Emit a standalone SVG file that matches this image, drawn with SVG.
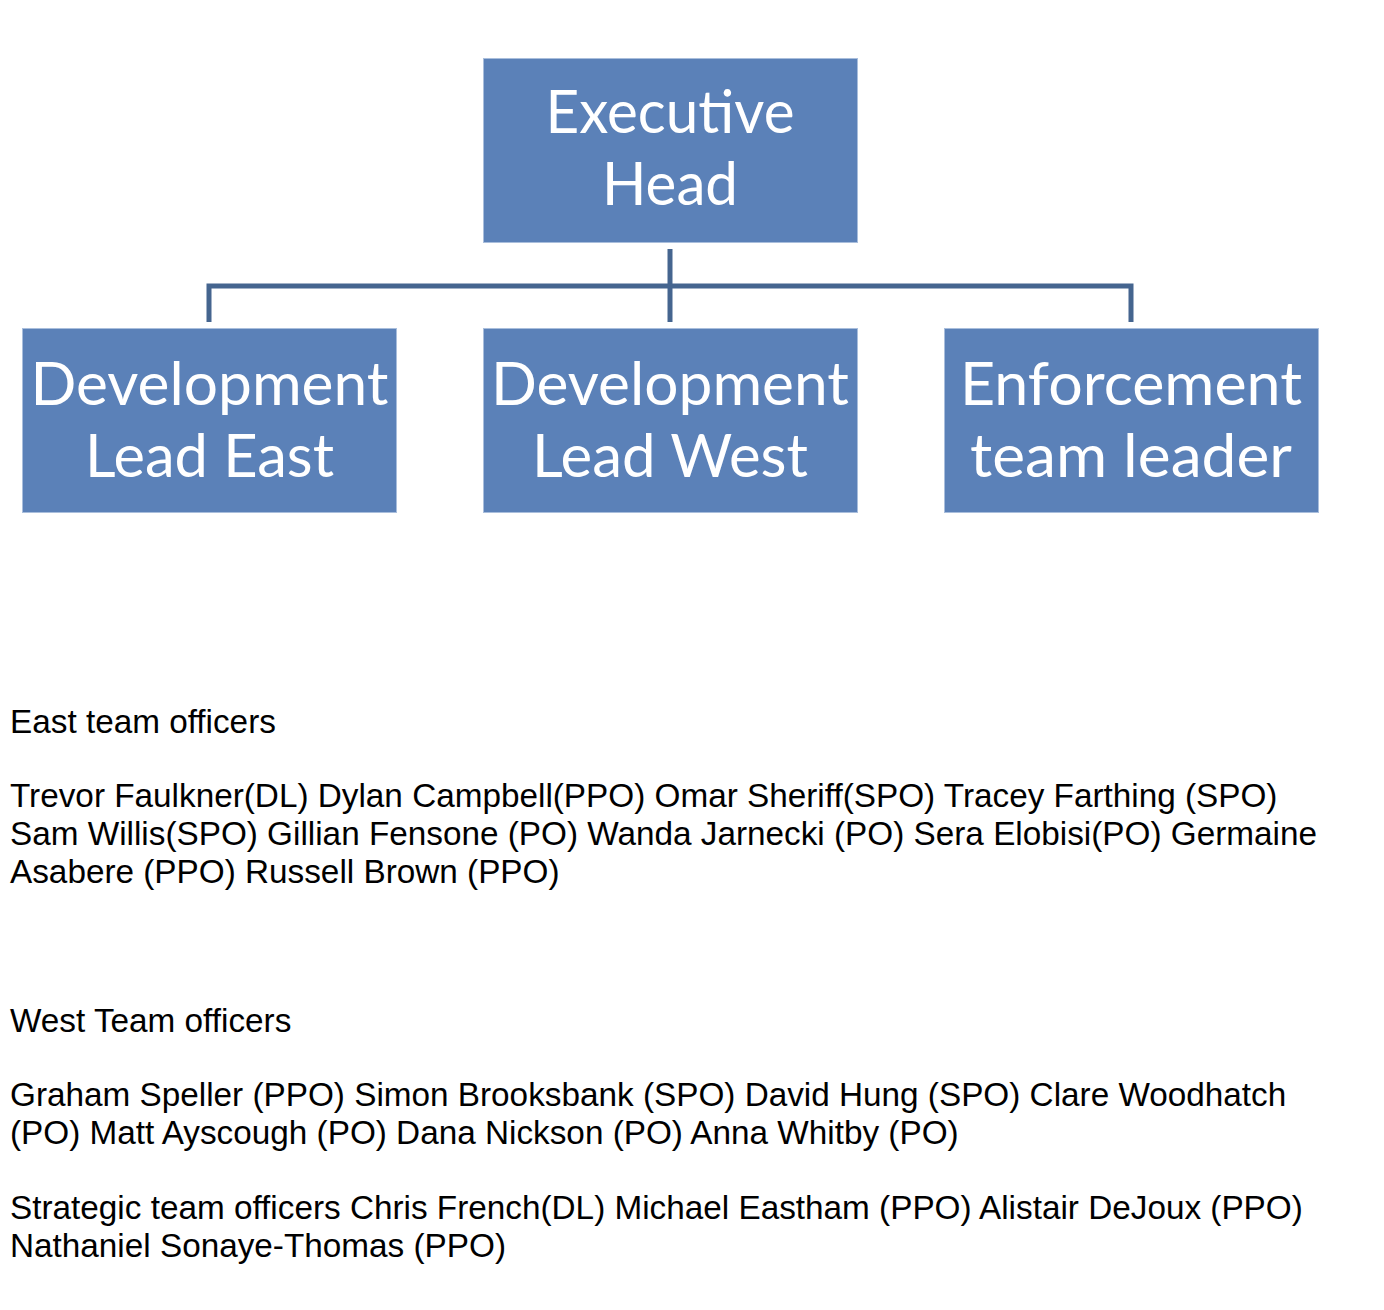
<svg xmlns="http://www.w3.org/2000/svg" width="1384" height="1310" viewBox="0 0 1384 1310">
<style>
.box{fill:#5b81b8;stroke:#a9bedc;stroke-width:1}
.bt{font-family:Lato,"Open Sans","Liberation Sans",sans-serif;font-size:60px;fill:#ffffff;text-anchor:middle}
.conn{fill:none;stroke:#45658f;stroke-width:5}
.body{font-family:"Liberation Sans",Arial,sans-serif;font-size:33.3px;fill:#000000}
</style>
<rect width="1384" height="1310" fill="#ffffff"/>
<g id="connectors">
<path class="conn" d="M670 249 V322"/>
<path class="conn" d="M209 322 V286 H1131 V322"/>
</g>
<g id="node-executive-head">
<rect class="box" x="483.5" y="58.5" width="374" height="184"/>
<text class="bt" x="670" y="133" textLength="249" lengthAdjust="spacingAndGlyphs">Executive</text>
<text class="bt" x="670" y="205" textLength="136" lengthAdjust="spacingAndGlyphs">Head</text>
</g>
<g id="node-dev-lead-east">
<rect class="box" x="22.5" y="328.5" width="374" height="184"/>
<text class="bt" x="209.5" y="405" textLength="358" lengthAdjust="spacingAndGlyphs">Development</text>
<text class="bt" x="209.5" y="477" textLength="249" lengthAdjust="spacingAndGlyphs">Lead East</text>
</g>
<g id="node-dev-lead-west">
<rect class="box" x="483.5" y="328.5" width="374" height="184"/>
<text class="bt" x="670" y="405" textLength="358" lengthAdjust="spacingAndGlyphs">Development</text>
<text class="bt" x="670" y="477" textLength="276" lengthAdjust="spacingAndGlyphs">Lead West</text>
</g>
<g id="node-enforcement">
<rect class="box" x="944.5" y="328.5" width="374" height="184"/>
<text class="bt" x="1131" y="405" textLength="342" lengthAdjust="spacingAndGlyphs">Enforcement</text>
<text class="bt" x="1131" y="477" textLength="322" lengthAdjust="spacingAndGlyphs">team leader</text>
</g>
<g id="text-east">
<text class="body" x="10" y="733">East team officers</text>
<text class="body" x="10" y="807">Trevor Faulkner(DL) Dylan Campbell(PPO) Omar Sheriff(SPO) Tracey Farthing (SPO)</text>
<text class="body" x="10" y="845">Sam Willis(SPO) Gillian Fensone (PO) Wanda Jarnecki (PO) Sera Elobisi(PO) Germaine</text>
<text class="body" x="10" y="883">Asabere (PPO) Russell Brown (PPO)</text>
</g>
<g id="text-west">
<text class="body" x="10" y="1032">West Team officers</text>
<text class="body" x="10" y="1106">Graham Speller (PPO) Simon Brooksbank (SPO) David Hung (SPO) Clare Woodhatch</text>
<text class="body" x="10" y="1144">(PO) Matt Ayscough (PO) Dana Nickson (PO) Anna Whitby (PO)</text>
</g>
<g id="text-strategic">
<text class="body" x="10" y="1219">Strategic team officers Chris French(DL) Michael Eastham (PPO) Alistair DeJoux (PPO)</text>
<text class="body" x="10" y="1257">Nathaniel Sonaye-Thomas (PPO)</text>
</g>
</svg>
